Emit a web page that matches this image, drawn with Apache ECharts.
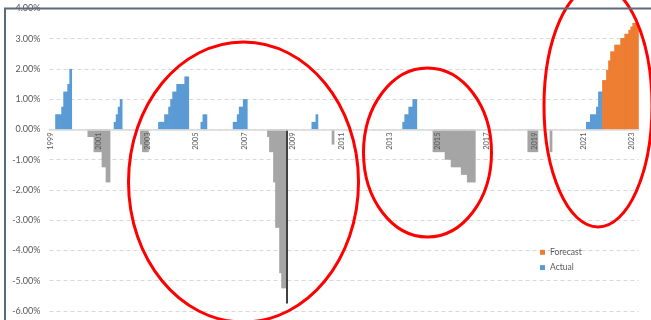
<!DOCTYPE html>
<html><head><meta charset="utf-8">
<script src="https://cdn.jsdelivr.net/npm/echarts@6/dist/echarts.min.js"></script>
<style>html,body{margin:0;padding:0;background:#fff}#c{width:651px;height:320px}</style>
</head><body><div id="c"></div>
<script>
// Month range of the category axis
const firstMonth = [1999, 1];
const lastMonth = [2023, 4];
const yTicks = [-6, -5, -4, -3, -2, -1, 0, 1, 2, 3, 4];

// Actual (rises), month -> % change
const actual = [
  ['1999-04',0.50],['1999-05',0.50],['1999-06',0.50],['1999-07',0.75],['1999-08',1.25],['1999-09',1.25],['1999-10',1.50],['1999-11',2.00],
  ['2001-09',0.25],['2001-10',0.50],['2001-11',0.75],['2001-12',1.00],
  ['2003-07',0.25],['2003-08',0.25],['2003-09',0.25],['2003-10',0.50],['2003-11',0.50],['2003-12',0.75],
  ['2004-01',1.00],['2004-02',1.25],['2004-03',1.25],['2004-04',1.50],['2004-05',1.50],['2004-06',1.50],['2004-07',1.50],['2004-08',1.75],['2004-09',1.75],
  ['2005-04',0.25],['2005-05',0.50],['2005-06',0.50],
  ['2006-08',0.25],['2006-09',0.25],['2006-10',0.50],['2006-11',0.75],['2006-12',0.75],['2007-01',1.00],['2007-02',1.00],
  ['2009-11',0.25],['2009-12',0.25],['2010-01',0.50],
  ['2013-08',0.25],['2013-09',0.50],['2013-10',0.50],['2013-11',0.75],['2013-12',0.75],['2014-01',1.00],['2014-02',1.00],
  ['2021-03',0.25],['2021-04',0.25],['2021-05',0.50],['2021-06',0.50],['2021-07',0.50],['2021-08',0.75],['2021-09',1.25],['2021-10',1.25]
];

// Actual (falls), month -> % change
const declines = [
  ['2000-08',-0.25],['2000-09',-0.25],['2000-10',-0.25],['2000-11',-0.75],['2000-12',-0.75],
  ['2001-01',-0.75],['2001-02',-0.75],['2001-03',-1.25],['2001-04',-1.25],['2001-05',-1.75],['2001-06',-1.75],
  ['2002-10',-0.50],['2002-11',-0.75],['2002-12',-0.75],['2003-01',-0.75],
  ['2008-01',-0.25],['2008-02',-0.75],['2008-03',-0.75],['2008-04',-1.75],['2008-05',-3.25],['2008-06',-3.25],['2008-07',-4.75],['2008-08',-5.25],['2008-09',-5.25],
  ['2010-09',-0.50],
  ['2014-11',-0.75],['2014-12',-0.75],['2015-01',-0.75],['2015-02',-0.75],['2015-03',-0.75],['2015-04',-0.75],
  ['2015-05',-1.00],['2015-06',-1.00],['2015-07',-1.00],
  ['2015-08',-1.25],['2015-09',-1.25],['2015-10',-1.25],['2015-11',-1.25],['2015-12',-1.25],
  ['2016-01',-1.50],['2016-02',-1.50],['2016-03',-1.50],
  ['2016-04',-1.75],['2016-05',-1.75],['2016-06',-1.75],['2016-07',-1.75],
  ['2018-10',-0.75],['2018-11',-0.75],['2018-12',-0.75],['2019-01',-0.75],['2019-02',-0.75],
  ['2019-09',-0.75]
];

// Deepest point of the 2008 fall (drawn as a thin black line)
const troughMonth = '2008-10';
const troughValue = -5.75;

// Forecast
const forecast = [
  ['2021-11',1.63],['2021-12',1.63],['2022-01',1.97],['2022-02',2.28],['2022-03',2.58],['2022-04',2.58],
  ['2022-05',2.80],['2022-06',2.80],['2022-07',2.80],['2022-08',3.02],['2022-09',3.02],['2022-10',3.16],
  ['2022-11',3.16],['2022-12',3.29],['2023-01',3.40],['2023-02',3.52],['2023-03',3.52],['2023-04',3.52]
];

const categories = [];
for (let y = firstMonth[0], m = firstMonth[1]; y < lastMonth[0] || (y === lastMonth[0] && m <= lastMonth[1]);) {
  categories.push(y + '-' + String(m).padStart(2, '0'));
  m++; if (m > 12) { m = 1; y++; }
}
function toSeries(pairs) {
  const map = new Map(pairs);
  return categories.map(c => (map.has(c) ? map.get(c) : null));
}

const H = 320, GRID_TOP = 8.4, GRID_BOTTOM = 9;
const yMin = yTicks[0], yMax = yTicks[yTicks.length - 1];
// move the category axis (line + labels) up to the zero line
const zeroOffset = -(H - GRID_TOP - GRID_BOTTOM) * (0 - yMin) / (yMax - yMin);

const FONT = 'Lato';
const BW = '135%';
const chart = echarts.init(document.getElementById('c'), null, { renderer: 'canvas' });
chart.setOption({
  animation: false,
  backgroundColor: '#ffffff',
  grid: { left: 49.5, right: 12.2, top: GRID_TOP, bottom: GRID_BOTTOM, outerBoundsMode: 'none', containLabel: false },
  legend: {
    data: ['Forecast', 'Actual'],
    orient: 'vertical',
    left: 540, top: 247.3,
    itemWidth: 5, itemHeight: 5, itemGap: 5.3,
    icon: 'rect',
    padding: 0,
    textStyle: { fontFamily: FONT, fontSize: 8.5, color: '#595959', lineHeight: 10 }
  },
  xAxis: {
    type: 'category',
    data: categories,
    z: 10,
    offset: zeroOffset,
    axisLine: { onZero: false, lineStyle: { color: '#d9d9d9', width: 1.5 } },
    axisTick: { show: false },
    axisLabel: {
      interval: 23, rotate: 90, margin: 3,
      fontFamily: FONT, fontSize: 7.5, color: '#595959',
      formatter: v => v.slice(0, 4)
    },
    splitLine: { show: false }
  },
  yAxis: {
    type: 'value',
    min: yMin, max: yMax, interval: 1,
    axisLine: { show: false }, axisTick: { show: false },
    axisLabel: { fontFamily: FONT, fontSize: 9, color: '#595959', margin: 9, formatter: v => v.toFixed(2) + '%' },
    splitLine: { lineStyle: { color: '#d9d9d9', type: [4, 3], width: 1 } }
  },
  series: [
    { name: 'Actual', type: 'bar', stack: 's', barWidth: BW, data: toSeries(actual), itemStyle: { color: '#5B9BD5' } },
    {
      name: 'Decline', type: 'bar', stack: 's', barWidth: BW, data: toSeries(declines), itemStyle: { color: '#A5A5A5' },
      markLine: {
        silent: true, symbol: ['none', 'none'], label: { show: false },
        lineStyle: { color: '#111111', width: 1.6, type: 'solid' },
        data: [[{ coord: [troughMonth, 0] }, { coord: [troughMonth, troughValue] }]]
      }
    },
    { name: 'Forecast', type: 'bar', stack: 's', barWidth: BW, data: toSeries(forecast), itemStyle: { color: '#ED7D31' } }
  ],
  graphic: [
    { type: 'ellipse', x: 243.5, y: 182, shape: { cx: 0, cy: 0, rx: 115, ry: 140 }, style: { fill: 'none', stroke: '#FF0000', lineWidth: 3 }, z: 100 },
    { type: 'ellipse', x: 427.5, y: 152.5, shape: { cx: 0, cy: 0, rx: 64, ry: 84.5 }, style: { fill: 'none', stroke: '#FF0000', lineWidth: 3 }, z: 100 },
    { type: 'ellipse', x: 598, y: 106, shape: { cx: 0, cy: 0, rx: 54, ry: 121 }, style: { fill: 'none', stroke: '#FF0000', lineWidth: 3 }, z: 100 },
    { type: 'line', shape: { x1: 4, y1: 8.5, x2: 651, y2: 8.5 }, style: { stroke: '#5d6a7c', lineWidth: 2 }, z: 110 },
    { type: 'line', shape: { x1: 5, y1: 8, x2: 5, y2: 320 }, style: { stroke: '#5d6a7c', lineWidth: 2 }, z: 110 }
  ]
});
</script>
</body></html>
